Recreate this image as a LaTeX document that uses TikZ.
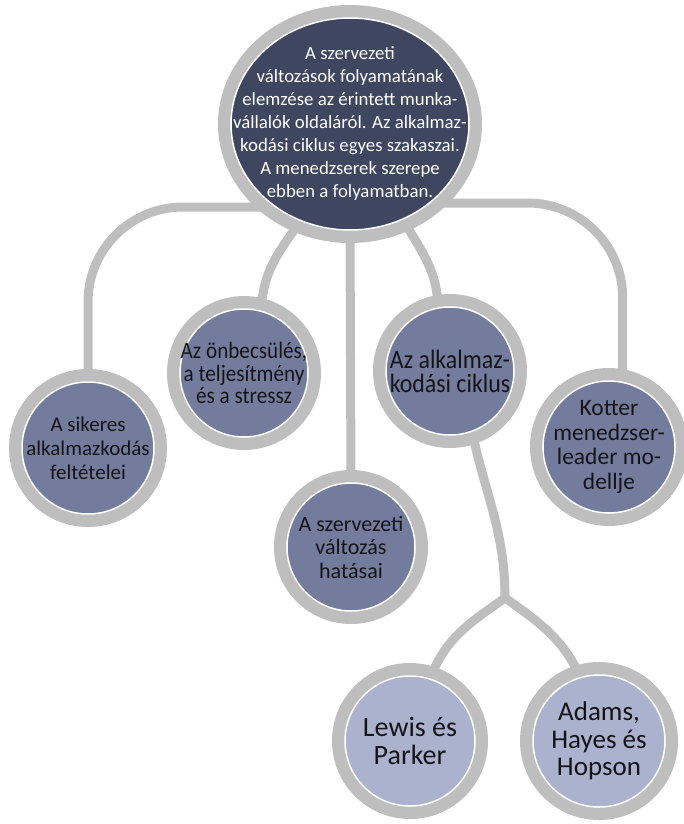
\documentclass[tikz,border=0pt]{standalone}
\usepackage{fontspec}
\setmainfont{Carlito}
\newfontfamily\narrowfont[FakeStretch=0.9]{Carlito}
\usetikzlibrary{shapes.geometric,backgrounds,calc}
\definecolor{ringgray}{RGB}{190,190,190}
\definecolor{rootfill}{RGB}{63,71,96}
\definecolor{midfill}{RGB}{115,124,156}
\definecolor{leaffill}{RGB}{170,178,205}
\definecolor{inktext}{RGB}{20,20,24}
\tikzset{
  ringed/.style={draw=white, line width=1.5pt, inner sep=0pt, outer sep=0pt,
    preaction={draw=ringgray, line width=26pt}},
  rootnode/.style={ringed, ellipse, fill=rootfill, minimum width=238pt, minimum height=212pt},
  midnode/.style={ringed, circle, fill=midfill, minimum size=#1},
  leafnode/.style={ringed, circle, fill=leaffill, minimum size=#1},
  roottext/.style={align=center, text=white, inner sep=0pt, font=\fontsize{18.8}{23}\selectfont},
  nodetext/.style={align=center, text=inktext, inner sep=0pt},
  link/.style={draw=ringgray, line width=9pt},
}
\begin{document}
\begin{tikzpicture}[x=1pt,y=1pt]
\useasboundingbox (0,0) rectangle (683,-824);

% root of the hierarchy
\node[rootnode] (root) at (350,-124)
  [label={[roottext]center:{A szervezeti\\változások folyamatának\\elemzése az érintett munka-\\vállalók oldaláról. Az alkalmaz-\\kodási ciklus egyes szakaszai.\\A menedzserek szerepe\\ebben a folyamatban.}}] {};

% second level
\node[midnode=132pt] (sik) at (88,-448)
  [label={[nodetext, font=\fontsize{21}{24}\selectfont]center:{A sikeres\\alkalmazkodás\\feltételei}}] {};
\node[midnode=128pt] (onb) at (244,-373)
  [label={[nodetext, font=\narrowfont\fontsize{23.5}{22.5}\selectfont]center:{Az önbecsülés,\\a teljesítmény\\és a stressz}}] {};
\node[midnode=128pt] (szerv) at (351,-547)
  [label={[nodetext, font=\fontsize{22}{23.5}\selectfont]center:{A szervezeti\\változás\\hatásai}}] {};
\node[midnode=128pt] (alk) at (450,-371)
  [label={[nodetext, font=\narrowfont\fontsize{26.5}{24}\selectfont]center:{Az alkalmaz-\\kodási ciklus}}] {};
\node[midnode=132pt] (kot) at (609,-447)
  [label={[nodetext, font=\fontsize{23.5}{24.5}\selectfont]center:{Kotter\\menedzser-\\leader mo-\\dellje}}] {};

% third level
\node[leafnode=130pt] (lew) at (410,-741)
  [label={[nodetext, font=\fontsize{28}{27.5}\selectfont]center:{Lewis és\\Parker}}] {};
\node[leafnode=132pt] (ada) at (599,-741)
  [label={[nodetext, font=\fontsize{27}{27.5}\selectfont]center:{Adams,\\Hayes és\\Hopson}}] {};

\coordinate (fork) at (505,-598);

% connectors behind the discs
\begin{scope}[on background layer]
  \draw[link, rounded corners=95pt] ($(root.center)+(0,-83)$) -| (sik.north);
  \draw[link, rounded corners=95pt] ($(root.center)+(0,-79)$) -| (kot.78);
  \draw[link] (root.243) to[out=235, in=90] (onb.74);
  \draw[link] (root.south) -- (szerv.north);
  \draw[link] (root.299) to[out=-60, in=90] (alk.101);
  \draw[link] (alk.290) to[out=-78, in=90] (fork);
  \draw[link] (fork) to[out=215, in=70] (lew.72);
  \draw[link] (fork) to[out=-35, in=115] (ada.106);
\end{scope}
\end{tikzpicture}
\end{document}
